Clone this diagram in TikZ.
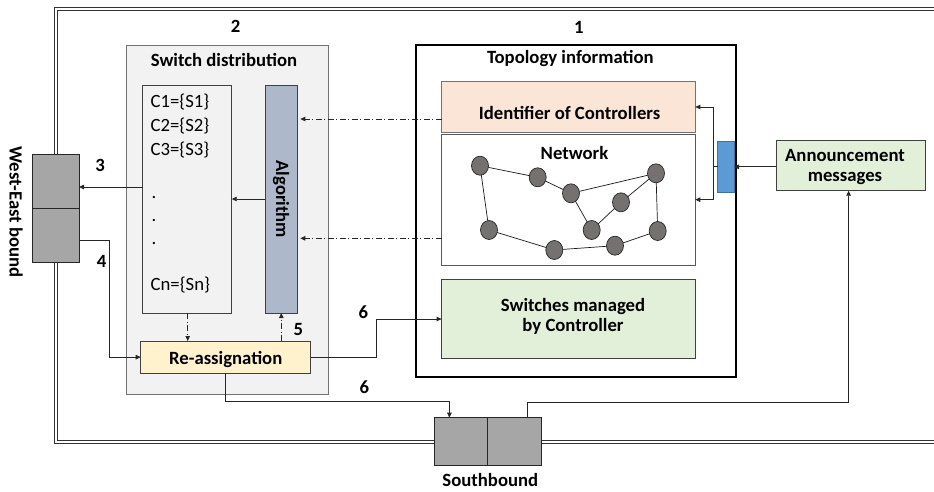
\documentclass[tikz,border=0pt]{standalone}
\usepackage{fontspec}
\setmainfont{Carlito}
\usetikzlibrary{arrows.meta,shapes.geometric,calc}

\definecolor{panelgray}{HTML}{F2F2F2}
\definecolor{algblue}{HTML}{ADB9CA}
\definecolor{reasyellow}{HTML}{FFF2CC}
\definecolor{idpeach}{HTML}{FBE5D6}
\definecolor{mgreen}{HTML}{E2F0D9}
\definecolor{portblue}{HTML}{5B9BD5}
\definecolor{portedge}{HTML}{41719C}
\definecolor{ifgray}{HTML}{A6A6A6}
\definecolor{nodegray}{HTML}{767171}
\definecolor{edgedark}{HTML}{404040}

\begin{document}
\begin{tikzpicture}[x=1pt,y=-1pt,
  every node/.style={inner sep=0pt, outer sep=0pt},
  bigfont/.style={font=\bfseries\fontsize{18.7}{20.5}\selectfont},
  lbl/.style={bigfont, anchor=base},
  plain/.style={font=\fontsize{18.7}{20.5}\selectfont, anchor=base west},
  rect/.style={draw=edgedark, line width=0.9pt, anchor=north west},
  ifbox/.style={rect, fill=ifgray, draw=black!85},
  arr/.style={-{Triangle[length=5pt,width=4.5pt]}, line width=0.8pt, draw=black!85},
  dd/.style={arr, dash pattern=on 6pt off 2.5pt on 1pt off 2.5pt},
  frame/.style={double=white, double distance=2pt, line width=0.9pt, draw=black!80},
  sw/.style={ellipse, draw=black!85, line width=0.7pt, fill=nodegray,
             minimum width=17pt, minimum height=19pt},
  link/.style={line width=0.7pt, draw=black!90}]

\useasboundingbox (0,0) rectangle (934,491);
\fill[white] (0,0) rectangle (934,491);

% controller frame (open to the right)
\draw[frame] (934,8.8) -| (55.8,442.2) -- (934,442.2);

% ---------- switch distribution panel ----------
\node[rect, fill=panelgray, draw=black!55, minimum width=201.6pt, minimum height=349pt] (swd) at (126.7,45) {};
\node[lbl] (swdtitle) at (224,66.7) {Switch distribution};
\node[lbl] (num2) at (235.7,32.3) {2};

\node[rect, fill=panelgray, minimum width=89pt, minimum height=227.3pt] (list) at (142.7,85.7) {};
\node[plain] (c1) at (150.7,107.3) {C1=\{S1\}};
\node[plain] (c2) at (150.7,131.3) {C2=\{S2\}};
\node[plain] (c3) at (150.7,155) {C3=\{S3\}};
\node[plain] (d1) at (151.5,198) {.};
\node[plain] (d2) at (151.5,221) {.};
\node[plain] (d3) at (151.5,244) {.};
\node[plain] (cn) at (150.7,290.7) {Cn=\{Sn\}};

\node[rect, fill=algblue, minimum width=32.3pt, minimum height=227.3pt] (alg) at (265,85.7) {};
\node[bigfont, rotate=-90] (algtext) at (alg.center) {Algorithm};

\node[rect, fill=reasyellow, minimum width=170pt, minimum height=32.3pt] (reas) at (140.7,341) {};
\node[lbl] (reastext) at (225.7,364) {Re-assignation};

% ---------- topology information panel ----------
\node[rect, draw=black, line width=2pt, minimum width=319.5pt, minimum height=331.7pt] (topo) at (416,45) {};
\node[lbl] (topotitle) at (570.3,63.3) {Topology information};
\node[lbl] (num1) at (578.8,33.3) {1};

\node[rect, fill=idpeach, draw=black!55, minimum width=253.7pt, minimum height=50.6pt] (ident) at (441.6,81.7) {};
\node[lbl] (identtext) at (569.6,119.3) {Identifier of Controllers};

\node[rect, fill=white, draw=black!65, minimum width=253.7pt, minimum height=131.3pt] (net) at (441.6,134) {};
\node[lbl] (nettext) at (574.5,159.3) {Network};

\node[rect, fill=mgreen, minimum width=253.7pt, minimum height=79.4pt] (mgd) at (441.6,279.3) {};
% anchor=base of a multi-line node sits on the last line
\node[bigfont, align=center, anchor=base] (mgdtext) at (573,331.7) {Switches managed\\by Controller};

% network graph
\node[sw] (n1) at (480,165.7) {};
\node[sw] (n2) at (537.7,177.3) {};
\node[sw] (n3) at (571,193.3) {};
\node[sw] (n4) at (656,173.3) {};
\node[sw] (n5) at (621,202.3) {};
\node[sw] (n6) at (591.7,230) {};
\node[sw] (n7) at (489,230) {};
\node[sw] (n8) at (554.3,250) {};
\node[sw] (n9) at (615,245.7) {};
\node[sw] (n10) at (657.7,231) {};
\draw[link] (n1) -- (n2) -- (n3) -- (n4) -- (n5) -- (n6) -- (n3);
\draw[link] (n4) -- (n10) -- (n9) -- (n8) -- (n7) -- (n1);

% ---------- interface to other controllers ----------
\node[rect, fill=portblue, draw=portedge, minimum width=16.3pt, minimum height=51.7pt] (port) at (717.7,141) {};
\node[rect, fill=mgreen, minimum width=149.1pt, minimum height=50.7pt] (ann) at (776.4,140) {};
\node[bigfont, align=center, anchor=base] (anntext) at (845,181.7) {Announcement\\messages};

% ---------- east-west and southbound interfaces ----------
\node[ifbox, minimum width=47pt, minimum height=54pt] (weT) at (32,154) {};
\node[ifbox, minimum width=47pt, minimum height=54pt] (weB) at (32,208) {};
\node[bigfont, rotate=-90] (wetext) at (16,212) {West-East bound};

\node[ifbox, minimum width=53.5pt, minimum height=47.6pt] (sbL) at (434,417.7) {};
\node[ifbox, minimum width=53.8pt, minimum height=47.6pt] (sbR) at (487.5,417.7) {};
\node[lbl] (sbtext) at (490.3,486) {Southbound};

% ---------- connectors ----------
\coordinate (annIn) at (848.6,190.7);
\coordinate (sbOut) at (527.7,417.7);
\coordinate (sbIn) at (449.4,417.7);
\coordinate (bend4) at (109,240);
\coordinate (bend6) at (376,319);

\draw[arr] (ann.west |- port.east) -- (port.east);
\draw[arr] (port.west) -- ++(-4.4,0) |- (ident.east);
\draw[arr] (port.west) -- ++(-4.4,0) |- (net.east);

\draw[dd, shorten >=3pt] (ident.west |- 0,119) -- (alg.east |- 0,119);
\draw[dd, shorten >=3pt] (net.west |- 0,238.3) -- (alg.east |- 0,238.3);

\draw[arr] (alg.west |- 0,199) -- (list.east |- 0,199);
\draw[arr] (list.west |- 0,187) -- (weT.east |- 0,187);
\node[lbl] (num3) at (100,171.7) {3};

\draw[arr] (weB.east |- bend4) -- (bend4) |- (reas.west);
\node[lbl] (num4) at (101.7,267.7) {4};

\draw[dd] (list.south -| 187.7,0) -- (reas.north -| 187.7,0);
\draw[dd] (reas.north -| 281.3,0) -- (alg.south -| 281.3,0);
\node[lbl] (num5) at (298.3,335.7) {5};

\draw[arr] (reas.east) -| (bend6) -- (mgd.west);
\node[lbl] (num6a) at (363.3,318.3) {6};

\draw[arr] (reas.south) |- ($(sbIn)+(0,-16)$) -- (sbIn);
\node[lbl] (num6b) at (364.3,393.3) {6};

\draw[arr] (sbOut) |- ($(annIn)+(0,211.6)$) -- (annIn);

\end{tikzpicture}
\end{document}
